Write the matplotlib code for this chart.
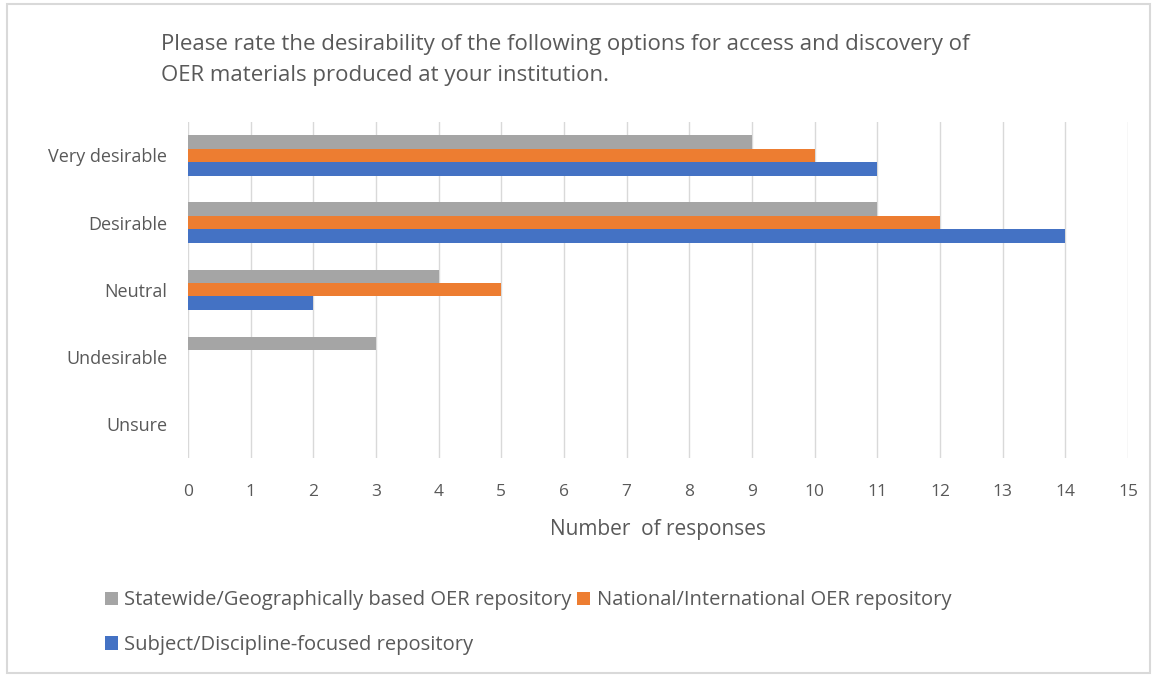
import matplotlib.pyplot as plt
import numpy as np
from matplotlib.patches import Rectangle

categories = ["Very desirable", "Desirable", "Neutral", "Undesirable", "Unsure"]
statewide = [9, 11, 4, 3, 0]
national = [10, 12, 5, 0, 0]
subject = [11, 14, 2, 0, 0]

series_names = [
    "Statewide/Geographically based OER repository",
    "National/International OER repository",
    "Subject/Discipline-focused repository",
]
colors = ["#A5A5A5", "#ED7D31", "#4472C4"]
text_color = "#595959"

plt.rcParams["font.family"] = ["Open Sans", "DejaVu Sans"]

fig = plt.figure(figsize=(11.56, 6.77), dpi=100)
fig.patches.append(Rectangle((0.006, 0.006), 0.989, 0.988, transform=fig.transFigure,
                             fill=False, edgecolor="#D9D9D9", linewidth=1.5))

ax = fig.add_axes([0.1626, 0.324, 0.8132, 0.496])

y = np.arange(len(categories))
h = 0.2
for i, (vals, name, c) in enumerate(zip([statewide, national, subject], series_names, colors)):
    ax.barh(y + (i - 1) * h, vals, height=h, color=c, label=name, zorder=3)

ax.set_ylim(len(categories) - 0.5, -0.5)
ax.set_xlim(0, 15)
ax.set_xticks(range(16))
ax.set_yticks(y)
ax.set_yticklabels(categories)
ax.grid(axis="x", color="#D9D9D9", linewidth=1, zorder=0)
for s in ax.spines.values():
    s.set_visible(False)
ax.tick_params(axis="x", length=0, labelsize=12.5, colors=text_color, pad=19)
ax.tick_params(axis="y", length=0, labelsize=13, colors=text_color, pad=15)
ax.set_xlabel("Number  of responses", fontsize=15, color=text_color, labelpad=14)

fig.text(0.139, 0.934, "Please rate the desirability of the following options for access and discovery of",
         fontsize=16, color=text_color, ha="left", va="center")
fig.text(0.139, 0.889, "OER materials produced at your institution.",
         fontsize=16, color=text_color, ha="left", va="center")

handles, labels = ax.get_legend_handles_labels()
fig.legend(handles[:2], labels[:2], loc="center left", bbox_to_anchor=(0.075, 0.113),
           ncol=2, frameon=False, fontsize=14.5, handlelength=0.65, handleheight=0.65,
           handletextpad=0.3, columnspacing=0.3, labelcolor=text_color)
fig.legend(handles[2:], labels[2:], loc="center left", bbox_to_anchor=(0.075, 0.047),
           frameon=False, fontsize=14.5, handlelength=0.65, handleheight=0.65,
           handletextpad=0.3, labelcolor=text_color)

fig.savefig("out.png", dpi=100)
